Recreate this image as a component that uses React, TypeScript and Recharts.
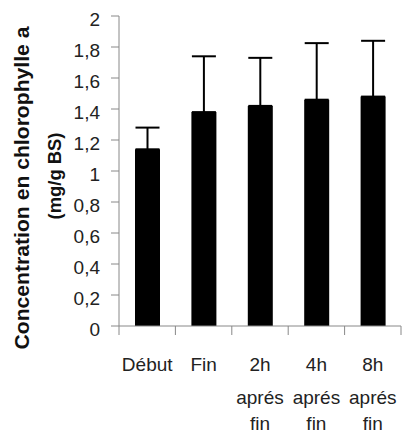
import React from 'react';
import { BarChart, Bar, XAxis, YAxis, ErrorBar } from 'recharts';

// valeurs
const categories = ['Début', 'Fin', '2h\naprés\nfin', '4h\naprés\nfin', '8h\naprés\nfin'];
const values = [1.14, 1.38, 1.42, 1.46, 1.48];
const errors = [0.14, 0.36, 0.31, 0.365, 0.36];
const yTicks = [0, 0.2, 0.4, 0.6, 0.8, 1, 1.2, 1.4, 1.6, 1.8, 2];

const data = categories.map((name, i) => ({
    name,
    value: values[i],
    err: [0, errors[i]],
}));

const W = 402;
const H = 436;
const LEFT = 119;
const RIGHT = 1;
const BAND = (W - LEFT - RIGHT) / categories.length;
const FONT = 'Liberation Sans, Arial, sans-serif';
const TXT = '#222';
const AXIS = '#888';

const lineOffsets = [45, 78, 104];

const XTick = (props: any) => {
    const { x, y, payload, index } = props;
    const lines = String(payload.value).split('\n');
    return (
        <g>
            <line x1={x - BAND / 2} y1={y} x2={x - BAND / 2} y2={y + 9} stroke={AXIS} />
            {index === categories.length - 1 && (
                <line x1={x + BAND / 2} y1={y} x2={x + BAND / 2} y2={y + 9} stroke={AXIS} />
            )}
            {lines.map((l, i) => (
                <text key={i} x={x} y={y + lineOffsets[i]} textAnchor="middle" fontSize={19} fontFamily={FONT} fill={TXT}>
                    {l}
                </text>
            ))}
        </g>
    );
};

const YTick = (props: any) => {
    const { x, y, payload } = props;
    return (
        <text x={x} y={y + 10} textAnchor="end" fontSize={19} fontFamily={FONT} fill={TXT}>
            {String(payload.value).replace('.', ',')}
        </text>
    );
};

const YLabel = () => (
    <g fontFamily={FONT} fontWeight="bold" fill="#111">
        <text x={22} y={188} transform="rotate(-90, 22, 188)" textAnchor="middle" dy="0.35em" fontSize={20}
            textLength={323} lengthAdjust="spacingAndGlyphs">
            Concentration en chlorophylle a
        </text>
        <text x={54} y={176} transform="rotate(-90, 54, 176)" textAnchor="middle" dy="0.35em" fontSize={19}
            textLength={87} lengthAdjust="spacingAndGlyphs">
            (mg/g BS)
        </text>
    </g>
);

export default function App() {
    return (
        <div style={{ position: 'absolute', left: 0, top: 0, background: '#fff' }}>
            <BarChart width={W} height={H} data={data} margin={{ top: 16, right: RIGHT, left: 0, bottom: 0 }}>
                <XAxis
                    dataKey="name"
                    height={110}
                    interval={0}
                    axisLine={{ stroke: AXIS }}
                    tickLine={false}
                    tickSize={0}
                    tickMargin={0}
                    tick={<XTick />}
                />
                <YAxis
                    width={LEFT}
                    domain={[0, 2]}
                    ticks={yTicks}
                    interval={0}
                    axisLine={{ stroke: AXIS }}
                    tickLine={{ stroke: AXIS }}
                    tickSize={8}
                    tickMargin={11}
                    tick={<YTick />}
                    label={{ content: () => <YLabel /> }}
                />
                <Bar dataKey="value" fill="#000" barSize={25} isAnimationActive={false}>
                    <ErrorBar dataKey="err" width={12} strokeWidth={2} stroke="#000" direction="y" />
                </Bar>
            </BarChart>
        </div>
    );
}
